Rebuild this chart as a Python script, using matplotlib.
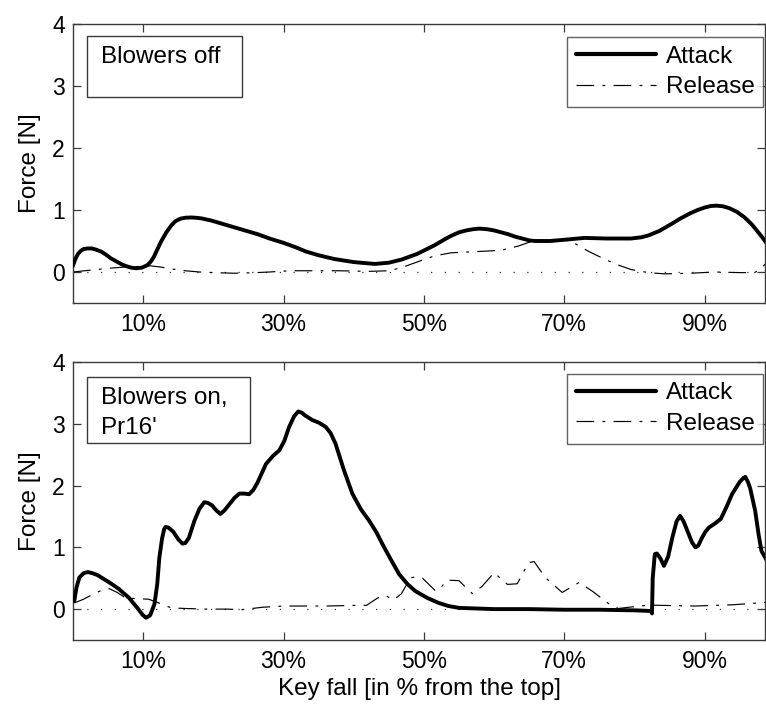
import matplotlib
matplotlib.use("Agg")
import matplotlib.pyplot as plt
from matplotlib.patches import Rectangle

plt.rcParams['font.family'] = ['Liberation Sans', 'DejaVu Sans']

# ---------------- data ----------------
xticks = [10, 30, 50, 70, 90]
xtick_labels = ["10%", "30%", "50%", "70%", "90%"]
yticks = [0, 1, 2, 3, 4]

# Top panel: blowers off
off_attack_x = [0, 0.3, 0.7, 1.1, 1.5, 2.1, 2.7, 3.3, 4, 4.7, 5.4, 6.2, 7, 7.7, 8.3, 9.0, 9.8,
                10.6, 11.1, 11.5, 12.0, 12.5, 13.3, 14.0, 14.6, 15.3, 16.0, 16.8, 17.5, 18.3,
                19.7, 21.5, 23, 24.5, 26.3, 28, 30, 31.7, 33.2, 35, 37.2, 40, 43, 45, 46.8, 49,
                51.5, 53, 54, 55, 56, 57, 57.9, 59, 60, 61, 62, 63, 64, 65, 65.8, 68, 70, 72.9,
                76, 79.5, 81, 82, 83.5, 85.2, 86.5, 88, 89, 90, 90.9, 91.7, 92.6, 93.5, 94.6,
                95.7, 96.7, 97.5, 98.2, 98.8]
off_attack_y = [0.1, 0.2, 0.29, 0.34, 0.37, 0.38, 0.38, 0.36, 0.33, 0.28, 0.22, 0.17, 0.12, 0.09,
                0.07, 0.06, 0.07, 0.11, 0.17, 0.24, 0.36, 0.48, 0.64, 0.75, 0.82, 0.86, 0.875,
                0.88, 0.875, 0.865, 0.83, 0.77, 0.72, 0.67, 0.61, 0.54, 0.47, 0.40, 0.33, 0.27,
                0.21, 0.16, 0.13, 0.15, 0.2, 0.29, 0.43, 0.53, 0.59, 0.64, 0.67, 0.69, 0.70,
                0.69, 0.67, 0.64, 0.61, 0.57, 0.54, 0.51, 0.50, 0.50, 0.52, 0.55, 0.54, 0.54,
                0.56, 0.59, 0.66, 0.77, 0.86, 0.95, 1.0, 1.04, 1.065, 1.07, 1.06, 1.03, 0.97,
                0.88, 0.77, 0.66, 0.56, 0.47]
off_release_x = [0, 2.5, 5, 7.5, 9.5, 11, 12.5, 14, 16, 18, 20, 23, 26, 28, 31, 34, 38, 42, 45,
                 46.8, 49, 51.5, 53.9, 57.7, 61, 63.5, 65.5, 67.5, 70, 71.5, 73.5, 75.7, 77.5,
                 79.5, 82, 84.3, 88, 91.4, 95, 97.1, 98, 98.8]
off_release_y = [0.0, 0.03, 0.06, 0.08, 0.09, 0.1, 0.08, 0.05, 0.02, 0.0, -0.01, -0.02, -0.01,
                 0.0, 0.02, 0.02, 0.02, 0.01, 0.02, 0.07, 0.16, 0.26, 0.31, 0.33, 0.35, 0.42, 0.5,
                 0.52, 0.52, 0.46, 0.33, 0.21, 0.12, 0.04, -0.01, -0.03, -0.02, 0.0, -0.01, -0.01,
                 0.05, 0.15]

# Bottom panel: blowers on, Pr16'
on_attack_x = [0.18, 0.5, 0.9, 1.5, 2.1, 2.8, 3.5, 5.2, 6.5, 8.0, 9.3, 9.9, 10.4, 11.0, 11.6,
               12.0, 12.3, 12.7, 13.0, 13.2, 13.6, 14.3, 15.0, 15.6, 16.0, 16.5, 17.3, 18.0, 18.7,
               19.2, 19.8, 20.4, 21.0, 21.6, 22.3, 23.0, 23.7, 24.4, 25.1, 25.7, 26.3, 27.5, 28.5,
               29.4, 30.1, 30.8, 31.5, 32.1, 32.6, 33.0, 34.1, 35.0, 36.0, 36.7, 37.4, 38.6, 39.8,
               41.0, 42.2, 43.2, 44.1, 45.3, 46.5, 47.7, 48.8, 50.5, 52.1, 53.5, 55.0, 60, 65,
               70, 75, 80, 82.3, 82.5, 82.6, 82.9, 83.2, 83.7, 84.2, 84.8, 85.4, 86.0, 86.5,
               87.0, 87.6, 88.2, 88.7, 89.1, 89.6, 90.1, 90.6, 91.4, 92.3, 93.1, 93.9, 95.0,
               95.5, 95.8, 96.2, 96.5, 97.2, 97.7, 98.1, 98.8]
on_attack_y = [0.13, 0.35, 0.51, 0.58, 0.60, 0.58, 0.55, 0.43, 0.33, 0.18, 0.0, -0.09, -0.14,
               -0.1, 0.08, 0.4, 0.83, 1.15, 1.3, 1.33, 1.32, 1.25, 1.13, 1.06, 1.07, 1.15, 1.43,
               1.62, 1.73, 1.72, 1.68, 1.6, 1.54, 1.6, 1.70, 1.8, 1.87, 1.87, 1.86, 1.93, 2.05,
               2.35, 2.48, 2.57, 2.72, 2.95, 3.12, 3.20, 3.18, 3.14, 3.06, 3.02, 2.95, 2.85, 2.68,
               2.25, 1.87, 1.62, 1.43, 1.25, 1.05, 0.80, 0.56, 0.4, 0.29, 0.18, 0.10, 0.05, 0.02,
               0.0, 0.0, -0.01, -0.01, -0.02, -0.03, -0.07, 0.5, 0.89, 0.9, 0.82, 0.70, 0.85,
               1.16, 1.42, 1.51, 1.42, 1.25, 1.08, 1.0, 1.03, 1.15, 1.25, 1.32, 1.38, 1.46, 1.65,
               1.86, 2.06, 2.12, 2.14, 2.05, 1.95, 1.59, 1.2, 0.94, 0.8]
on_release_x = [0.2, 1.5, 3.0, 4.2, 5.2, 6.3, 7.5, 9.0, 10.8, 12.2, 13.2, 14.1, 16, 19, 22, 24,
                27.0, 30, 32.7, 36, 40, 41.8, 42.6, 43.4, 44.5, 45.7, 46.8, 48.1, 49.0, 49.8,
                51.7, 52.5, 53.3, 55.0, 56.9, 58.3, 60.0, 61.9, 63.3, 64.9, 65.7, 67.3, 69.7,
                72.1, 74.0, 76.3, 77.7, 79.2, 82.0, 88.6, 94, 98.8]
on_release_y = [0.1, 0.16, 0.25, 0.31, 0.33, 0.27, 0.18, 0.17, 0.16, 0.1, 0.05, 0.02, 0.01, 0.0,
                0.0, -0.01, 0.03, 0.05, 0.05, 0.05, 0.06, 0.06, 0.12, 0.18, 0.22, 0.15, 0.25,
                0.51, 0.52, 0.5, 0.29, 0.36, 0.47, 0.46, 0.25, 0.37, 0.59, 0.40, 0.41, 0.75, 0.77,
                0.51, 0.27, 0.43, 0.29, 0.09, 0.01, 0.03, 0.065, 0.05, 0.07, 0.11]

series_names = ["Attack", "Release"]
panel_notes = ["Blowers off", "Blowers on,\nPr16'"]

# ---------------- figure ----------------
W, H = 766, 705
fig = plt.figure(figsize=(W / 100, H / 100), dpi=100)

def px_axes(l, t, r, b):
    return fig.add_axes([l / W, 1 - b / H, (r - l) / W, (b - t) / H])

ax1 = px_axes(73, 24, 765, 303)
ax2 = px_axes(73, 362, 765, 640)

spine_col = "#3a3a3a"
FS_TICK = 16.5
FS_TEXT = 17.5
release_ls = (0, (15, 7, 2.4, 7))

panels = [
    (ax1, off_attack_x, off_attack_y, off_release_x, off_release_y,
     (0.020, 0.738, 0.224, 0.219), [(0.882, "Blowers off")], 0.953),
    (ax2, on_attack_x, on_attack_y, on_release_x, on_release_y,
     (0.020, 0.709, 0.236, 0.237), [(0.870, "Blowers on,"), (0.763, "Pr16'")], 0.957),
]

for ax, ax_x, ax_y, rx, ry, rect, lines, leg_top in panels:
    ax.axhline(0, color="#333333", lw=0.9, ls=(0, (1.0, 10)), zorder=1)
    ax.plot(ax_x, ax_y, color="black", lw=2.8, solid_joinstyle="round",
            solid_capstyle="round", label=series_names[0], zorder=3)
    ax.plot(rx, ry, color="black", lw=0.85, ls=release_ls, label=series_names[1], zorder=2)
    ax.set_xlim(0, 98.6)
    ax.set_ylim(-0.5, 4)
    ax.set_xticks(xticks)
    ax.set_xticklabels(xtick_labels)
    ax.set_yticks(yticks)
    ax.tick_params(direction="in", length=6, width=0.9, color=spine_col,
                   top=True, right=True, labelsize=FS_TICK, pad=7)
    ax.tick_params(axis="y", pad=6)
    for s in ax.spines.values():
        s.set_color(spine_col)
        s.set_linewidth(1.0)
    ax.set_ylabel("Force [N]", fontsize=FS_TEXT, labelpad=8)
    ax.add_patch(Rectangle((rect[0], rect[1]), rect[2], rect[3], transform=ax.transAxes,
                           facecolor="white", edgecolor=spine_col, lw=1.0, zorder=5))
    for yy, txt in lines:
        ax.text(0.040, yy, txt, transform=ax.transAxes, fontsize=FS_TEXT,
                va="center", ha="left", zorder=6)
    leg = ax.legend(loc="upper right", bbox_to_anchor=(0.997, leg_top), borderaxespad=0,
                    fontsize=FS_TEXT, frameon=True, fancybox=False, handlelength=3.3,
                    handletextpad=0.4, borderpad=0.35, labelspacing=0.35)
    leg.get_frame().set_edgecolor(spine_col)
    leg.get_frame().set_linewidth(1.0)
    for lh in leg.get_lines():
        if lh.get_linestyle() == "-":
            lh.set_linewidth(3.0)

ax2.set_xlabel("Key fall [in % from the top]", fontsize=FS_TEXT, labelpad=4)

fig.savefig("out.png", dpi=100)
